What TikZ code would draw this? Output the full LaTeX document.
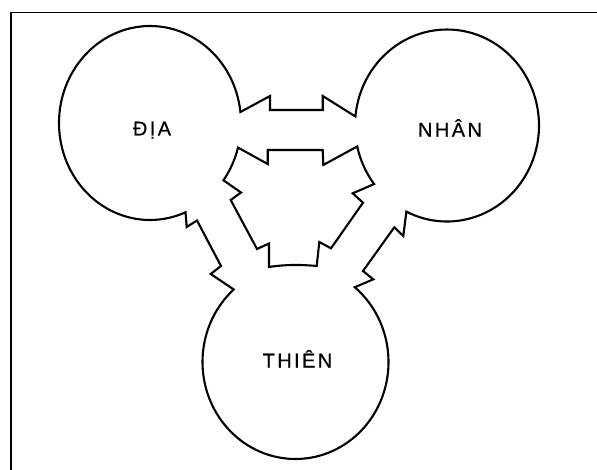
\documentclass[tikz,border=0pt]{standalone}
\usepackage{fontspec}
\newfontfamily\labfont[LetterSpace=12,FakeBold=0.6]{Liberation Sans}
\tikzset{
  outline/.style={line width=2.1pt, line join=miter, miter limit=4},
  frameline/.style={line width=1.1pt},
  lab/.style={font=\labfont\fontsize{20}{24}\selectfont, anchor=base, inner sep=0pt}
}
\begin{document}
\begin{tikzpicture}[x=1pt,y=-1pt]
\useasboundingbox (0,0) rectangle (597,470);
% frame (top and left lines)
\coordinate (fa) at (597,12.3);
\coordinate (fb) at (11,12.3);
\coordinate (fc) at (11,470);
\draw[frameline] (fa) -- (fb) -- (fc);
% centres
\coordinate (dia) at (150,123);
\coordinate (nhan) at (447,125.5);
\coordinate (thien) at (295.5,362);
% arc end points on the ellipses
\coordinate (dA1) at ([shift={(dia)}] 6.5:91pt and 97pt);
\coordinate (dH2) at ([shift={(dia)}] 323.8:91pt and 97pt);
\coordinate (nN2) at ([shift={(nhan)}] 243.8:92pt and 96pt);
\coordinate (nH3) at ([shift={(nhan)}] 192.6:92pt and 96pt);
\coordinate (tT1) at ([shift={(thien)}] 131.6:93pt and 97pt);
% outer outline
\draw[outline] (dA1) arc[start angle=6.5, end angle=293, x radius=91pt, y radius=97pt]
  -- (186.7,227) -- (197,220.5) -- (221,266) -- (210.7,274)
  -- (tT1) arc[start angle=131.6, end angle=410.4, x radius=93pt, y radius=97pt]
  -- (373.3,279.3) -- (363,271) -- (394.3,227.3) -- (403.3,236)
  -- (nN2) arc[start angle=243.8, end angle=534.6, x radius=92pt, y radius=96pt]
  -- (322.7,96) -- (322.7,110) -- (270,110) -- (270,96) -- cycle;
% inner hexagon
\coordinate (hb1) at (316.7,266);
\coordinate (hb2) at (269,267);
\draw[outline] (267.7,164) -- (267.7,150) -- (322.7,150) -- (323.3,165)
  -- (nH3) arc[start angle=192.6, end angle=217.6, x radius=92pt, y radius=96pt]
  -- (352.7,193.3) -- (363,202.7) -- (331,248.3) -- (319.3,242)
  -- (hb1) .. controls (300,264.5) and (285,264.5) .. (hb2)
  -- (269,243.5) -- (257,249) -- (230.7,200) -- (241,192.5)
  -- (dH2) arc[start angle=323.8, end angle=345.3, x radius=91pt, y radius=97pt]
  -- cycle;
% labels
\node[lab] (ldia) at (152,135.5) {ĐỊA};
\node[lab] (lnhan) at (450,136.7) {NHÂN};
\node[lab] (lthien) at (297.5,367.5) {THIÊN};
\end{tikzpicture}
\end{document}
